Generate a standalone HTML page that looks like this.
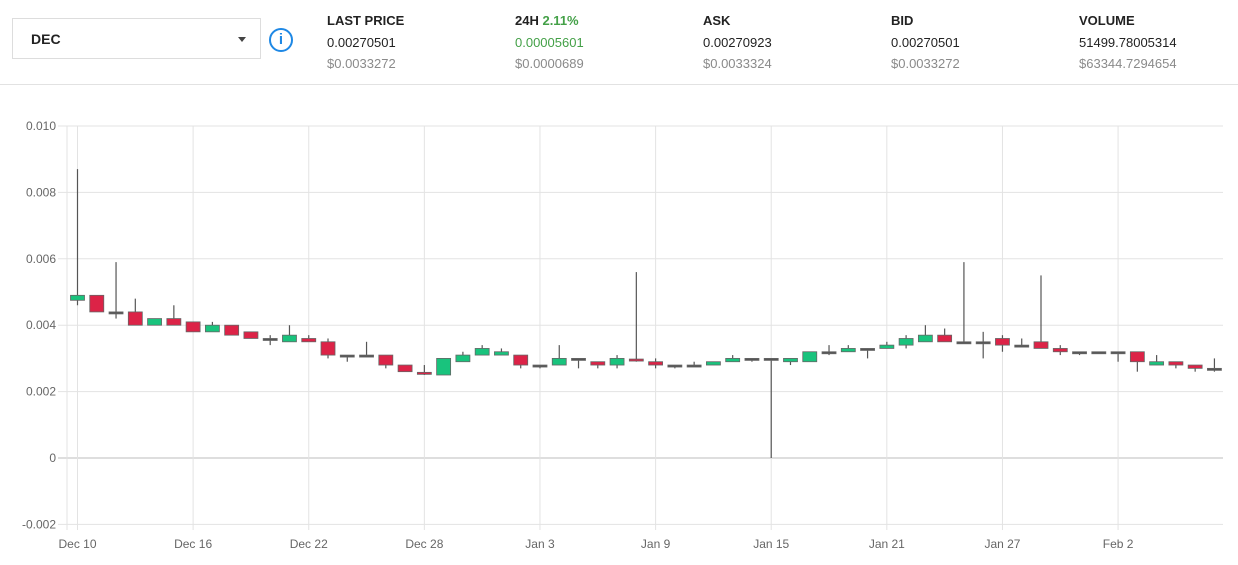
<!DOCTYPE html>
<html><head><meta charset="utf-8"><style>
body{margin:0;width:1238px;height:565px;background:#fff;font-family:"Liberation Sans",sans-serif;overflow:hidden;position:relative}
.sel{position:absolute;left:12px;top:18px;width:249px;height:41px;border:1px solid #ddd;box-sizing:border-box}
.sel span{position:absolute;left:18px;top:12px;font-weight:bold;font-size:14px;color:#222}
.caret{position:absolute;left:225px;top:18px;width:0;height:0;border-left:4px solid transparent;border-right:4px solid transparent;border-top:5px solid #444}
.info{position:absolute;left:269px;top:28px;width:20px;height:20px;border:2px solid #1e88e5;border-radius:50%;color:#1e88e5;font-weight:bold;font-size:15px;text-align:center;line-height:20px}
.col{position:absolute;top:10px;font-size:13px;line-height:21.5px;color:#222}
.col .h{font-weight:bold}.col .g{color:#8a8a8a}.gr{color:#43a047}
.sep{position:absolute;left:0;top:84px;width:1238px;height:1px;background:#e2e2e2}
</style></head><body>
<div class="sel"><span>DEC</span><div class="caret"></div></div>
<div class="info">i</div>
<div class="col" style="left:327px"><div class="h">LAST PRICE</div><div>0.00270501</div><div class="g">$0.0033272</div></div>
<div class="col" style="left:515px"><div class="h">24H <span class="gr">2.11%</span></div><div class="gr">0.00005601</div><div class="g">$0.0000689</div></div>
<div class="col" style="left:703px"><div class="h">ASK</div><div>0.00270923</div><div class="g">$0.0033324</div></div>
<div class="col" style="left:891px"><div class="h">BID</div><div>0.00270501</div><div class="g">$0.0033272</div></div>
<div class="col" style="left:1079px"><div class="h">VOLUME</div><div>51499.78005314</div><div class="g">$63344.7294654</div></div>
<div class="sep"></div>
<svg id="chart" width="1238" height="565" style="position:absolute;left:0;top:0"></svg>
<script>
const yTicks=[0.010,0.008,0.006,0.004,0.002,0,-0.002];
const yTickLabels=["0.010","0.008","0.006","0.004","0.002","0","-0.002"];
const xTickDays=[0,6,12,18,24,30,36,42,48,54];
const xTickLabels=["Dec 10","Dec 16","Dec 22","Dec 28","Jan 3","Jan 9","Jan 15","Jan 21","Jan 27","Feb 2"];
const opens=[.00475,.0049,.0044,.0044,.0040,.0042,.0041,.0038,.0040,.0038,.0036,.0035,.0036,.0035,.0031,.0031,.0031,.0028,.00258,.0025,.0029,.0031,.0031,.0031,.0028,.0028,.0030,.0029,.0028,.00298,.0029,.0028,.0028,.0028,.0029,.0030,.0030,.0029,.0029,.0032,.0032,.0033,.0033,.0034,.0035,.0037,.0035,.0035,.0036,.0034,.0035,.0033,.0032,.0032,.0032,.0032,.0028,.0029,.0028,.0027];
const closes=[.0049,.0044,.0044,.0040,.0042,.0040,.0038,.0040,.0037,.0036,.0036,.0037,.0035,.0031,.0031,.0031,.0028,.0026,.00252,.0030,.0031,.0033,.0032,.0028,.0028,.0030,.0030,.0028,.0030,.00292,.0028,.0028,.0028,.0029,.0030,.0030,.0030,.0030,.0032,.0032,.0033,.0033,.0034,.0036,.0037,.0035,.0035,.0035,.0034,.0034,.0033,.0032,.0032,.0032,.0032,.0029,.0029,.0028,.0027,.0027];
const highs=[.0087,.0049,.0059,.0048,.0042,.0046,.0041,.0041,.0040,.0038,.0037,.0040,.0037,.0036,.0031,.0035,.0031,.0028,.0028,.0030,.0032,.0034,.0033,.0031,.0028,.0034,.0030,.0029,.0031,.0056,.0030,.0028,.0029,.0029,.0031,.0030,.0030,.0030,.0032,.0034,.0034,.0033,.0035,.0037,.0040,.0039,.0059,.0038,.0037,.0036,.0055,.0034,.0032,.0032,.0032,.0032,.0031,.0029,.0028,.0030];
const lows=[.0046,.0044,.0042,.0040,.0040,.0040,.0038,.0038,.0037,.0036,.0034,.0035,.0035,.0030,.0029,.0031,.0027,.0026,.0025,.0025,.0029,.0031,.0031,.0027,.0027,.0028,.0027,.0027,.0027,.0029,.0027,.0027,.0028,.0028,.0029,.0029,0,.0028,.0029,.0031,.0032,.0030,.0033,.0033,.0035,.0035,.0035,.0030,.0032,.0034,.0033,.0031,.0031,.0032,.0029,.0026,.0028,.0027,.0026,.0026];
const svg=document.getElementById('chart');const NS='http://www.w3.org/2000/svg';
const L=67,R=1223,T=126,B=524;
function y(v){return 458-(v/0.002)*66.4;}
function x(d){return 77.5+d*19.27;}
function mk(t,a){const e=document.createElementNS(NS,t);for(const k in a)e.setAttribute(k,a[k]);svg.appendChild(e);return e;}
yTicks.forEach((v,i)=>{
 const g=mk('line',{x1:58,x2:R,y1:y(v),y2:y(v),stroke:v===0?'#bdbdbd':'#e3e3e3'});
 
 
 const t=mk('text',{x:56,y:y(v)+4,'text-anchor':'end','font-size':12,fill:'#666','font-family':'Liberation Sans'});
 t.textContent=yTickLabels[i];
 
 
});
const ax=mk('line',{x1:L,x2:L,y1:T,y2:B+6,stroke:'#e3e3e3'});


xTickDays.forEach((d,i)=>{
 const g=mk('line',{x1:x(d),x2:x(d),y1:T,y2:B+6,stroke:'#e3e3e3'});
 
 
 const t=mk('text',{x:x(d),y:548,'text-anchor':'middle','font-size':12,fill:'#666','font-family':'Liberation Sans'});
 t.textContent=xTickLabels[i];
 
 
});
opens.forEach((o,i)=>{
 const c=closes[i],cx=x(i),up=c>=o;
 const w=mk('line',{x1:cx,x2:cx,y1:y(highs[i]),y2:y(lows[i]),stroke:'#555','stroke-width':1.2});
 
 
 const top=y(Math.max(o,c)),h=Math.max(2,Math.abs(y(o)-y(c)));
 const b=mk('rect',{x:cx-7,y:top,width:14,height:h,fill:Math.abs(o-c)<0.00003?'#555':(up?'#19c37d':'#dc2347'),stroke:'#666','stroke-width':0.8});
 
 
});
</script>
</body></html>
